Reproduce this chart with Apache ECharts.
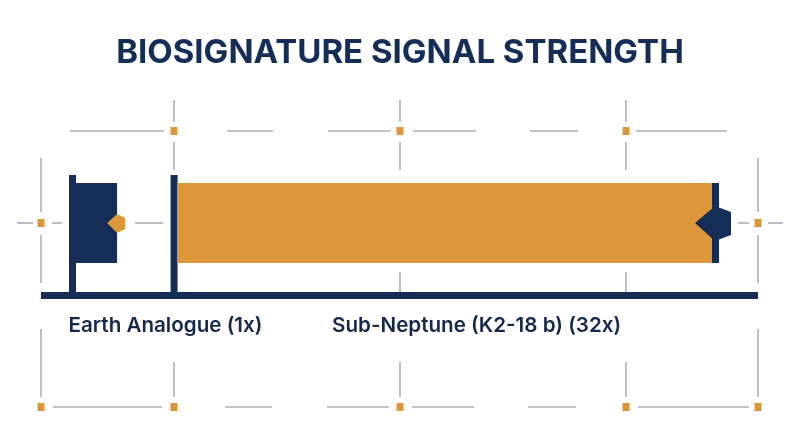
<!DOCTYPE html>
<html>
<head>
<meta charset="utf-8">
<script src="https://cdn.jsdelivr.net/npm/echarts@6/dist/echarts.min.js"></script>
<style>
html,body{margin:0;padding:0;background:#ffffff;}
#chart{width:800px;height:447px;}
</style>
</head>
<body>
<div id="chart"></div>
<script>
// ---- data ----
const titleText = 'BIOSIGNATURE SIGNAL STRENGTH';
const categories = ['Earth Analogue (1x)', 'Sub-Neptune (K2-18 b) (32x)'];
const signalValues = [1, 32];

// ---- style / layout constants ----
const NAVY = '#152d57';
const ORANGE = '#dc973a';
const GRAY = '#abb0b7';
const barFill = [NAVY, ORANGE];
const accentFill = [ORANGE, NAVY];
const labelShift = [-4, 158];

const chart = echarts.init(document.getElementById('chart'));

// decorative frame
const deco = [];
function hseg(x1, x2, y) { deco.push({type:'line', shape:{x1:x1, y1:y, x2:x2, y2:y}, style:{stroke:GRAY, lineWidth:1.6}, silent:true}); }
function vseg(x, y1, y2) { deco.push({type:'line', shape:{x1:x, y1:y1, x2:x, y2:y2}, style:{stroke:GRAY, lineWidth:1.6}, silent:true}); }
function sq(x, y) { deco.push({type:'rect', shape:{x:x-3.5, y:y-4, width:7, height:8}, style:{fill:ORANGE}, silent:true}); }
// top row
[[70,164],[227,273],[328,391],[413,476],[530,578],[636,727]].forEach(s => hseg(s[0], s[1], 131));
[174,400,626].forEach(x => { vseg(x,100,122); vseg(x,142,170); sq(x,131); });
[400,626].forEach(x => vseg(x,272,292));
// side crosshairs
vseg(41,158,212); vseg(41,235,283); hseg(17,33,223); hseg(52,62,223); sq(41,223);
vseg(758,158,212); vseg(758,235,283); hseg(738,749,223); hseg(768,783,223); sq(758,223);
hseg(135,163,223);
// bottom row
vseg(41,329,397); vseg(758,329,397);
[174,400,626].forEach(x => vseg(x,362,397));
[41,174,400,626,758].forEach(x => sq(x,407));
[[53,162],[225,272],[327,389],[412,474],[528,576],[638,749]].forEach(s => hseg(s[0], s[1], 407));

function renderItem(params, api) {
  const i = params.dataIndex;
  const endPt = api.coord([api.value(0), 0]);
  const end = endPt[0];
  const axisY = endPt[1];
  const cs = params.coordSys;
  const pole = i === 0 ? cs.x + 31.5 : api.coord([signalValues[i - 1], 0])[0] + 57;
  const top = axisY - 112;
  const bot = axisY - 32;
  const cy = (top + bot) / 2;
  const children = [];
  children.push({type:'rect', shape:{x:pole - 3.5, y:axisY - 120, width:7, height:120}, style:{fill:NAVY}});
  children.push({type:'rect', shape:{x:pole + 3, y:top, width:end - pole - 3, height:bot - top}, style:{fill:barFill[i]}});
  if (i === 0) {
    children.push({type:'polygon', shape:{points:[[end-10,cy],[end,cy-9],[end+8,cy-5],[end+8,cy+6],[end,cy+10]]}, style:{fill:accentFill[i]}});
  } else {
    children.push({type:'rect', shape:{x:end, y:top, width:7, height:bot - top}, style:{fill:NAVY}});
    children.push({type:'polygon', shape:{points:[[end-17,cy],[end+3,cy-17],[end+19,cy-11],[end+19,cy+12],[end+3,cy+18]]}, style:{fill:accentFill[i]}});
  }
  children.push({type:'text', style:{text:categories[i], x:pole + labelShift[i], y:axisY + 31, fill:'#17294a',
    font:'600 20.6px Inter', textAlign:'left', textVerticalAlign:'middle'}});
  return {type:'group', children:children};
}

chart.setOption({
  backgroundColor:'#ffffff',
  animation:false,
  title:{text:titleText, left:'center', top:32,
    textStyle:{fontFamily:'Inter', fontWeight:700, fontSize:33, color:NAVY}},
  graphic:deco,
  grid:{left:41, right:42, top:100, bottom:152},
  xAxis:{type:'log', logBase:2, min:0.642, max:41.84,
    axisLine:{show:true, lineStyle:{color:NAVY, width:7, cap:'butt'}},
    axisTick:{show:false}, axisLabel:{show:false}, splitLine:{show:false}},
  yAxis:{type:'value', min:0, max:1, show:false},
  series:[{
    type:'custom',
    renderItem:renderItem,
    clip:false,
    encode:{x:0, y:1},
    data:signalValues.map(v => [v, 0])
  }]
});
</script>
</body>
</html>
